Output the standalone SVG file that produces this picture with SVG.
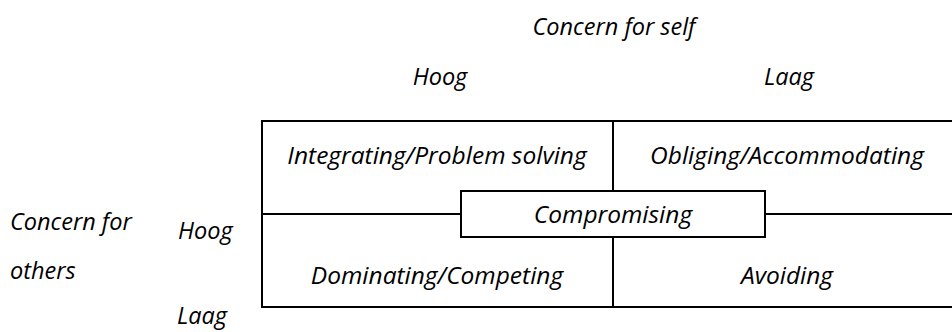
<svg xmlns="http://www.w3.org/2000/svg" width="952" height="332" viewBox="0 0 952 332">
<style>
text{font-family:"Open Sans","DejaVu Sans",sans-serif;font-style:italic;font-size:23.5px;fill:#000}
.m{text-anchor:middle}
.i{font-size:24.5px}
.ln{stroke:#000;stroke-width:2;fill:none}
.bx{stroke:#000;stroke-width:2;fill:#fff}
</style>
<rect width="952" height="332" fill="#fff"/>
<g id="axis-labels">
<text x="614" y="35" class="m">Concern for self</text>
<text x="440" y="85" class="m">Hoog</text>
<text x="789" y="85" class="m">Laag</text>
<text x="178" y="239">Hoog</text>
<text x="10" y="230">Concern for</text>
<text x="10" y="279">others</text>
<text x="177" y="324">Laag</text>
</g>
<g id="connectors">
<rect class="ln" x="262" y="121" width="700" height="186"/>
<line class="ln" x1="613" y1="121" x2="613" y2="307"/>
<line class="ln" x1="262" y1="214" x2="952" y2="214"/>
</g>
<g id="integrating"><text x="437" y="164" class="m i">Integrating/Problem solving</text></g>
<g id="obliging"><text x="787" y="164" class="m i">Obliging/Accommodating</text></g>
<g id="dominating"><text x="437" y="284" class="m i">Dominating/Competing</text></g>
<g id="avoiding"><text x="787" y="284" class="m i">Avoiding</text></g>
<g id="compromising">
<rect class="bx" x="461" y="191" width="304" height="46"/>
<text x="613" y="223" class="m i">Compromising</text>
</g>
</svg>
